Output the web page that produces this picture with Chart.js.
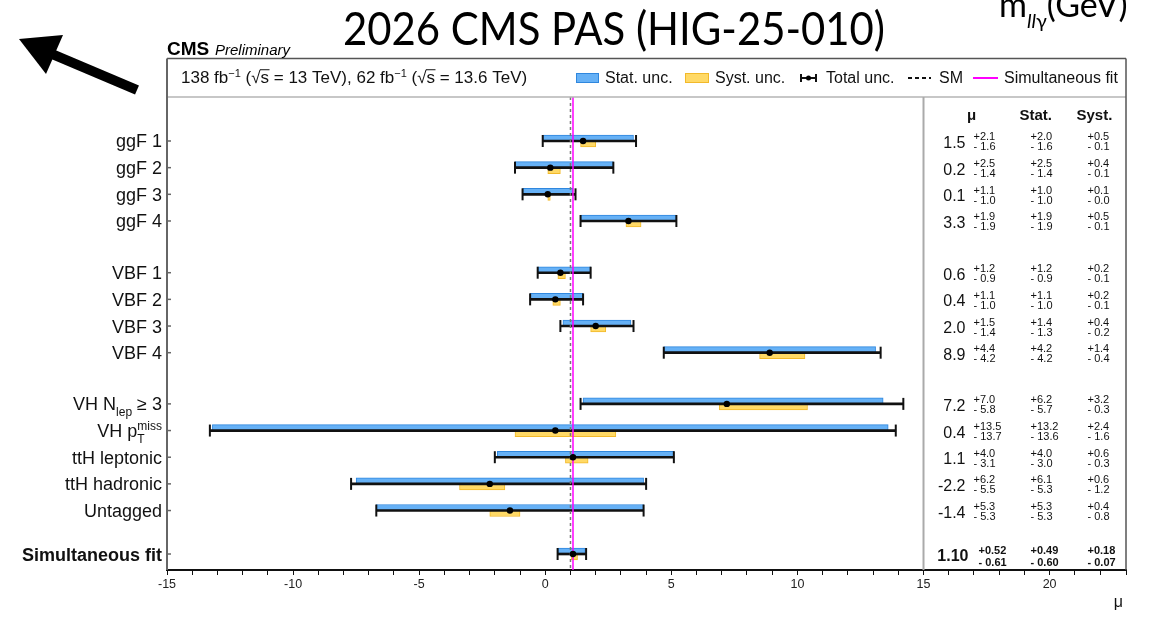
<!DOCTYPE html>
<html lang="en">
<head>
<meta charset="utf-8">
<title>Signal strength per event category</title>
<script src="https://cdn.jsdelivr.net/npm/chart.js@4.4.1/dist/chart.umd.min.js"></script>
<style>
  html, body { margin: 0; padding: 0; background: #fff; }
  #plot { display: block; }
</style>
</head>
<body>
<canvas id="plot" width="1166" height="620"></canvas>
<script>
// ---- data: best-fit signal strength per category and its uncertainties ----
const categories = ['ggF 1', 'ggF 2', 'ggF 3', 'ggF 4',
                    'VBF 1', 'VBF 2', 'VBF 3', 'VBF 4',
                    'VH N_{lep} ≥ 3', 'VH p_{T}^{miss}', 'ttH leptonic', 'ttH hadronic', 'Untagged',
                    'Simultaneous fit'];
const groupSizes = [4, 4, 5, 1];
const mu     = [1.5, 0.2, 0.1, 3.3, 0.6, 0.4, 2.0, 8.9, 7.2, 0.4, 1.1, -2.2, -1.4, 1.10];
const totUp  = [2.1, 2.5, 1.1, 1.9, 1.2, 1.1, 1.5, 4.4, 7.0, 13.5, 4.0, 6.2, 5.3, 0.52];
const totDn  = [1.6, 1.4, 1.0, 1.9, 0.9, 1.0, 1.4, 4.2, 5.8, 13.7, 3.1, 5.5, 5.3, 0.61];
const statUp = [2.0, 2.5, 1.0, 1.9, 1.2, 1.1, 1.4, 4.2, 6.2, 13.2, 4.0, 6.1, 5.3, 0.49];
const statDn = [1.6, 1.4, 1.0, 1.9, 0.9, 1.0, 1.3, 4.2, 5.7, 13.6, 3.0, 5.3, 5.3, 0.60];
const systUp = [0.5, 0.4, 0.1, 0.5, 0.2, 0.2, 0.4, 1.4, 3.2, 2.4, 0.6, 0.6, 0.4, 0.18];
const systDn = [0.1, 0.1, 0.0, 0.1, 0.1, 0.1, 0.2, 0.4, 0.3, 1.6, 0.3, 1.2, 0.8, 0.07];
const smValue = 1;
const xTickLabels = [-15, -10, -5, 0, 5, 10, 15, 20];

const slideTitle = '2026 CMS PAS (HIG-25-010)';
const lumiParts = ['138 fb^{−1} (', ' = 13 TeV), 62 fb^{−1} (', ' = 13.6 TeV)'];

// ---- styling ----
const FONT = "'Liberation Sans', Arial, Helvetica, sans-serif";
const SLIDE_FONT = "Lato, 'Open Sans', sans-serif";
const C = {
  statFill: '#66b1f6', statEdge: '#2f87de',
  systFill: '#ffd966', systEdge: '#f2b92a',
  total: '#111111', sm: '#777777', fit: '#ff00ff'
};
const lastIdx = categories.length - 1;

// vertical layout: one unit per row, wider spacing between category groups
const groupSpacing = [1.94, 1.92, 1.63];
const rowPos = [];
{
  let p = 0;
  groupSizes.forEach((n, g) => {
    if (g) p += groupSpacing[g - 1] - 1;
    for (let k = 0; k < n; k++) { rowPos.push(p); p += 1; }
  });
}

const statData  = mu.map((m, i) => ({ x: [m - statDn[i], m + statUp[i]], y: rowPos[i] }));
const systData  = mu.map((m, i) => ({ x: [m - systDn[i], m + systUp[i]], y: rowPos[i] }));
const totData   = mu.map((m, i) => ({ x: [m - totDn[i],  m + totUp[i]],  y: rowPos[i] }));
const pointData = mu.map((m, i) => ({ x: m, y: rowPos[i] }));

// text with _{sub} and ^{sup} parts; returns the x where the text ends
function drawRich(ctx, label, x, baseY, size, bold, align) {
  const w = bold ? 'bold ' : '';
  const fMain = w + size + 'px ' + FONT;
  const fSmall = w + Math.round(size * 0.64) + 'px ' + FONT;
  const runs = [];
  const re = /([_^])\{([^}]*)\}/g;
  let last = 0, m;
  const pushText = t => { if (t) runs.push({ items: [{ k: 'n', t }] }); };
  while ((m = re.exec(label)) !== null) {
    pushText(label.slice(last, m.index));
    const prev = runs[runs.length - 1];
    const item = { k: m[1], t: m[2] };
    if (prev && m.index === last && prev.items[0].k !== 'n' && !prev.items.some(q => q.k === item.k)) prev.items.push(item);
    else runs.push({ items: [item] });
    last = re.lastIndex;
  }
  pushText(label.slice(last));
  runs.forEach(r => {
    r.w = Math.max(...r.items.map(it => { ctx.font = it.k === 'n' ? fMain : fSmall; return ctx.measureText(it.t).width; }));
  });
  const total = runs.reduce((s, r) => s + r.w, 0);
  let cx = align === 'right' ? x - total : x;
  ctx.textAlign = 'left';
  ctx.textBaseline = 'alphabetic';
  runs.forEach(r => {
    r.items.forEach(it => {
      ctx.font = it.k === 'n' ? fMain : fSmall;
      const dy = it.k === '_' ? size * 0.33 : it.k === '^' ? -size * 0.37 : 0;
      ctx.fillText(it.t, cx, baseY + dy);
    });
    cx += r.w;
  });
  return cx;
}

// √s with the overbar
function drawSqrtS(ctx, x, baseY, size) {
  ctx.font = size + 'px ' + FONT;
  ctx.textAlign = 'left';
  const wr = ctx.measureText('√').width;
  const ws = ctx.measureText('s').width;
  ctx.fillText('√', x, baseY);
  ctx.fillText('s', x + wr, baseY);
  ctx.lineWidth = 1;
  ctx.beginPath();
  ctx.moveTo(x + wr - 0.5, baseY - size * 0.78);
  ctx.lineTo(x + wr + ws + 0.5, baseY - size * 0.78);
  ctx.stroke();
  return x + wr + ws;
}

function line(ctx, x1, y1, x2, y2) {
  ctx.beginPath(); ctx.moveTo(x1, y1); ctx.lineTo(x2, y2); ctx.stroke();
}

const decor = {
  id: 'cmsDecor',
  // caps of the total error bars and the vertical reference lines, under the markers
  afterDatasetDraw(chart, args) {
    if (args.index !== 2) return;
    const ctx = chart.ctx, xs = chart.scales.x, a = chart.chartArea;
    ctx.save();
    ctx.strokeStyle = C.total;
    ctx.lineWidth = 2;
    args.meta.data.forEach(el => {
      const { x, base, y } = el.getProps(['x', 'base', 'y'], true);
      line(ctx, x, y - 6, x, y + 6);
      line(ctx, base, y - 6, base, y + 6);
    });
    const xsm = xs.getPixelForValue(smValue);
    ctx.setLineDash([3, 3]);
    ctx.strokeStyle = C.sm;
    ctx.lineWidth = 1.5;
    line(ctx, xsm, a.top, xsm, a.bottom);
    ctx.setLineDash([]);
    const xfit = xs.getPixelForValue(mu[lastIdx]);
    ctx.strokeStyle = C.fit;
    ctx.lineWidth = 1.5;
    line(ctx, xfit, a.top, xfit, a.bottom);
    ctx.restore();
  },
  afterDraw(chart) {
    const ctx = chart.ctx, xs = chart.scales.x, ys = chart.scales.y, a = chart.chartArea;
    const frameTop = 58.5;
    ctx.save();

    // frame, header band and the separator of the results table
    ctx.strokeStyle = '#b4b4b4';
    ctx.lineWidth = 1.5;
    line(ctx, a.left, a.top, a.right, a.top);
    const x15 = xs.getPixelForValue(15);
    ctx.strokeStyle = '#aaaaaa';
    ctx.lineWidth = 2;
    line(ctx, x15, a.top, x15, a.bottom);
    ctx.strokeStyle = '#555';
    ctx.lineWidth = 1.5;
    line(ctx, a.left, frameTop, a.right, frameTop);
    line(ctx, a.right, frameTop, a.right, a.bottom);
    ctx.strokeStyle = '#666';
    ctx.lineWidth = 2;
    line(ctx, a.left, frameTop, a.left, a.bottom);

    // inward row ticks on the left axis
    ctx.lineWidth = 1.5;
    rowPos.forEach(p => { const y = ys.getPixelForValue(p); line(ctx, a.left, y, a.left + 4, y); });

    // CMS label
    ctx.fillStyle = '#000';
    ctx.textBaseline = 'alphabetic';
    ctx.textAlign = 'left';
    ctx.font = 'bold 19px ' + FONT;
    ctx.fillText('CMS', a.left, 55);
    ctx.font = 'italic 15px ' + FONT;
    ctx.fillText('Preliminary', a.left + 48, 55);

    // luminosity / energy line
    ctx.fillStyle = '#111';
    ctx.strokeStyle = '#111';
    const ls = 17;
    let hx = a.left + 14;
    hx = drawRich(ctx, lumiParts[0], hx, 83, ls, false, 'left');
    hx = drawSqrtS(ctx, hx, 83, ls);
    hx = drawRich(ctx, lumiParts[1], hx, 83, ls, false, 'left');
    hx = drawSqrtS(ctx, hx, 83, ls);
    drawRich(ctx, lumiParts[2], hx, 83, ls, false, 'left');

    // legend entries
    const ly = 78;
    ctx.font = '16px ' + FONT;
    ctx.lineWidth = 1;
    ctx.fillStyle = C.statFill; ctx.fillRect(576, 73, 23, 10);
    ctx.strokeStyle = C.statEdge; ctx.strokeRect(576.5, 73.5, 22, 9);
    ctx.fillStyle = C.systFill; ctx.fillRect(685, 73, 24, 10);
    ctx.strokeStyle = C.systEdge; ctx.strokeRect(685.5, 73.5, 23, 9);
    ctx.strokeStyle = '#111'; ctx.lineWidth = 2;
    line(ctx, 800, ly, 817, ly);
    line(ctx, 801, ly - 4, 801, ly + 4);
    line(ctx, 816, ly - 4, 816, ly + 4);
    ctx.fillStyle = '#000';
    ctx.beginPath(); ctx.arc(808.5, ly, 2.5, 0, Math.PI * 2); ctx.fill();
    ctx.setLineDash([4, 3]);
    line(ctx, 908, ly, 931, ly);
    ctx.setLineDash([]);
    ctx.strokeStyle = C.fit;
    line(ctx, 973, ly, 998, ly);
    ctx.fillStyle = '#111';
    ctx.textAlign = 'left';
    ctx.fillText('Stat. unc.', 605, 83);
    ctx.fillText('Syst. unc.', 715, 83);
    ctx.fillText('Total unc.', 826, 83);
    ctx.fillText('SM', 939, 83);
    ctx.fillText('Simultaneous fit', 1004, 83);

    // category labels
    ctx.fillStyle = '#111';
    categories.forEach((c, i) => {
      const y = ys.getPixelForValue(rowPos[i]);
      drawRich(ctx, c, a.left - 5, y + 6.5, 18, i === lastIdx, 'right');
    });

    // results table
    ctx.font = 'bold 15px ' + FONT;
    ctx.textAlign = 'center';
    ctx.fillText('μ', x15 + 48, 120);
    ctx.textAlign = 'left';
    ctx.fillText('Stat.', x15 + 96, 120);
    ctx.fillText('Syst.', x15 + 153, 120);
    categories.forEach((c, i) => {
      const y = ys.getPixelForValue(rowPos[i]);
      const comb = i === lastIdx;
      const d = comb ? 2 : 1;
      const b = comb ? 'bold ' : '';
      ctx.font = b + '16px ' + FONT;
      ctx.textAlign = 'right';
      ctx.fillText(mu[i].toFixed(d), x15 + (comb ? 45 : 42), y + 7);
      ctx.font = b + '11px ' + FONT;
      ctx.textAlign = 'left';
      [[totUp, totDn, comb ? 55 : 50], [statUp, statDn, 107], [systUp, systDn, 164]].forEach(([u, dn, off]) => {
        ctx.fillText('+' + u[i].toFixed(d), x15 + off, y + (comb ? 0 : -0.5));
        ctx.fillText('- ' + dn[i].toFixed(d), x15 + off, y + (comb ? 11.5 : 9.5));
      });
    });

    // x-axis title
    ctx.font = '16px ' + FONT;
    ctx.textAlign = 'right';
    ctx.fillText('μ', a.right - 3, 607);

    // slide overlay: title, mass label and arrow
    ctx.fillStyle = '#000';
    ctx.font = '46px ' + SLIDE_FONT;
    ctx.textAlign = 'left';
    const tw = ctx.measureText(slideTitle).width;
    ctx.save();
    ctx.translate(343, 45);
    ctx.scale(542 / tw, 1);
    ctx.fillText(slideTitle, 0, 0);
    ctx.restore();

    ctx.font = '34px ' + SLIDE_FONT;
    ctx.fillText('m', 999, 17);
    let mx = 999 + ctx.measureText('m').width;
    ctx.font = 'italic 20px ' + SLIDE_FONT;
    ctx.fillText('ll', mx, 28);
    mx += ctx.measureText('ll').width;
    ctx.font = '20px ' + SLIDE_FONT;
    ctx.fillText('γ', mx, 28);
    mx += ctx.measureText('γ').width;
    ctx.font = '34px ' + SLIDE_FONT;
    ctx.fillText('(GeV)', mx, 17);

    ctx.strokeStyle = '#000';
    ctx.lineWidth = 10;
    line(ctx, 137, 90, 52, 54);
    ctx.beginPath();
    ctx.moveTo(19, 39); ctx.lineTo(63, 35); ctx.lineTo(46, 74); ctx.closePath();
    ctx.fill();

    ctx.restore();
  }
};

new Chart(document.getElementById('plot'), {
  type: 'bar',
  data: {
    datasets: [
      { label: 'Stat. unc.', data: statData, backgroundColor: C.statFill, borderColor: C.statEdge,
        borderWidth: 1, borderSkipped: false, barThickness: 6, order: 3 },
      { label: 'Syst. unc.', data: systData, backgroundColor: C.systFill, borderColor: C.systEdge,
        borderWidth: 1, borderSkipped: false, barThickness: 6, order: 4 },
      { label: 'Total unc.', data: totData, backgroundColor: C.total, borderWidth: 0,
        barThickness: 2, grouped: false, order: 2 },
      { type: 'scatter', label: 'μ', data: pointData, indexAxis: 'x', pointRadius: 3.2,
        pointBackgroundColor: '#000', pointBorderWidth: 0, order: 1 }
    ]
  },
  options: {
    indexAxis: 'y',
    responsive: false,
    animation: false,
    devicePixelRatio: 1,
    layout: { padding: { left: 0, right: 40, top: 97, bottom: 0 } },
    plugins: { legend: { display: false }, tooltip: { enabled: false } },
    scales: {
      x: {
        type: 'linear', position: 'bottom', min: -15, max: 23.03, offset: false,
        grid: { display: true, drawOnChartArea: false, drawTicks: true, tickLength: 5, color: '#111', lineWidth: 1 },
        border: { display: true, color: '#111', width: 2 },
        ticks: {
          stepSize: 1, autoSkip: false, maxRotation: 0, padding: 2, color: '#222',
          font: { family: FONT, size: 12.5 },
          callback: v => {
            const r = Math.round(v);
            return Math.abs(v - r) < 1e-6 && xTickLabels.includes(r) ? String(r) : '';
          }
        },
        afterFit: s => { s.height = 50; }
      },
      y: {
        type: 'linear', min: -1.65, max: 16.09, reverse: true, offset: false,
        grid: { display: false }, border: { display: false }, ticks: { display: false },
        afterFit: s => { s.width = 167; }
      }
    }
  },
  plugins: [decor]
});
</script>
</body>
</html>
